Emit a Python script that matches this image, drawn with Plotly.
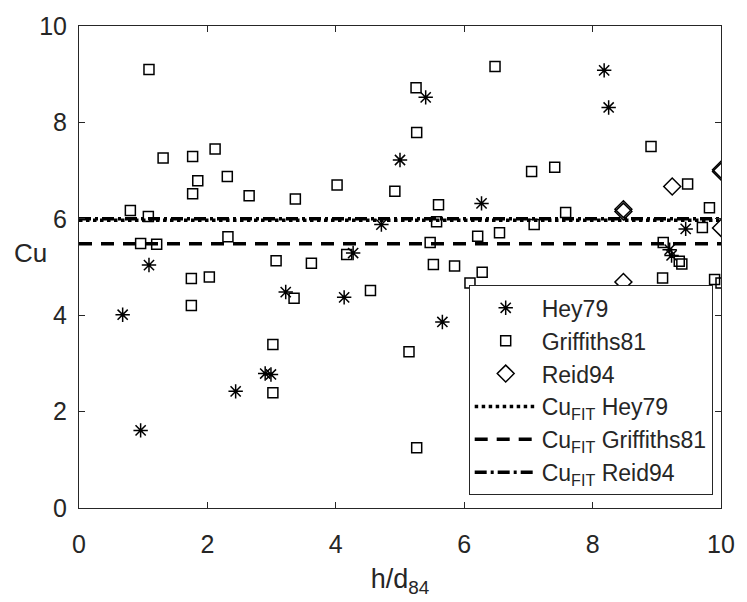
import plotly.graph_objects as go

# Hey (1979) measurements
hey_x = [0.68, 0.96, 1.09, 2.44, 2.90, 2.99, 3.22, 4.13, 4.27, 4.71, 5.00, 5.40,
         5.66, 6.27, 8.18, 8.25, 9.20, 9.23, 9.45]
hey_y = [4.01, 1.61, 5.04, 2.42, 2.79, 2.77, 4.48, 4.37, 5.29, 5.88, 7.22, 8.52,
         3.86, 6.32, 9.08, 8.31, 5.36, 5.24, 5.79]

# Griffiths (1981) measurements
gri_x = [1.09, 1.31, 1.77, 2.12, 1.85, 2.31, 1.77, 2.65, 3.37, 0.80, 1.08, 2.32,
         0.96, 1.21, 3.07, 1.75, 2.03, 1.75, 3.35, 3.02, 3.02, 3.62, 4.17, 4.54,
         5.47, 5.52, 5.85, 6.21, 6.28, 6.09, 5.14, 5.26, 4.02, 4.92, 5.25, 5.26,
         5.60, 5.57, 6.48, 7.05, 7.41, 8.91, 9.48, 9.82, 7.58, 7.09, 6.55, 9.71,
         9.10, 9.35, 9.39, 9.09, 9.90, 10.0]
gri_y = [9.10, 7.26, 7.29, 7.45, 6.79, 6.88, 6.52, 6.48, 6.41, 6.17, 6.05, 5.63,
         5.49, 5.47, 5.13, 4.76, 4.79, 4.20, 4.35, 3.39, 2.39, 5.08, 5.26, 4.51,
         5.51, 5.05, 5.02, 5.64, 4.89, 4.67, 3.24, 1.25, 6.70, 6.57, 8.72, 7.79,
         6.29, 5.94, 9.16, 6.98, 7.07, 7.50, 6.72, 6.23, 6.13, 5.88, 5.71, 5.82,
         5.51, 5.12, 5.06, 4.77, 4.74, 4.67]

# Reid (1994) measurements
reid_x = [8.48, 8.48, 9.24, 10.0, 10.0, 10.0, 8.48]
reid_y = [6.20, 6.15, 6.67, 7.02, 6.98, 5.81, 4.69]

# Fitted Cu constants for each data set
fit_names = ["Hey79", "Griffiths81", "Reid94"]
fit_values = [5.97, 5.48, 6.00]
fit_dashes = ["dot", "13px,9px", "12px,4px,3px,4px"]
x_range = [0, 10]

FONT = "Liberation Sans, Arial, sans-serif"
INK = "#262626"

fig = go.Figure()

fig.add_trace(go.Scatter(
    x=hey_x, y=hey_y, mode="markers", name="Hey79",
    marker=dict(symbol="asterisk-open", size=12, color="black",
                line=dict(color="black", width=1.5))))
fig.add_trace(go.Scatter(
    x=gri_x, y=gri_y, mode="markers", name="Griffiths81",
    marker=dict(symbol="square-open", size=10, color="black",
                line=dict(color="black", width=1.5))))
fig.add_trace(go.Scatter(
    x=reid_x, y=reid_y, mode="markers", name="Reid94",
    marker=dict(symbol="diamond-open", size=13, color="black",
                line=dict(color="black", width=1.5))))

for name, val, dash in zip(fit_names, fit_values, fit_dashes):
    fig.add_trace(go.Scatter(
        x=x_range, y=[val, val], mode="lines",
        name="Cu<sub>FIT</sub> " + name,
        line=dict(color="black", width=3.5, dash=dash)))

axis_common = dict(
    showline=True, linecolor=INK, linewidth=1, mirror="ticks",
    ticks="inside", ticklen=6, tickcolor=INK, tickwidth=1,
    showgrid=False, zeroline=False,
    tickfont=dict(family=FONT, size=25, color=INK),
)

fig.update_xaxes(range=[0, 10], tickvals=[0, 2, 4, 6, 8, 10],
                 ticklabelstandoff=14,
                 title=dict(text="h/d<sub>84</sub>",
                            font=dict(family=FONT, size=27, color=INK),
                            standoff=12),
                 **axis_common)
fig.update_yaxes(range=[0, 10], tickvals=[0, 2, 4, 6, 8, 10],
                 ticklabelstandoff=6, **axis_common)

fig.add_annotation(text="Cu", xref="paper", yref="paper", x=-0.075, y=0.53,
                   xanchor="center", yanchor="middle", showarrow=False,
                   font=dict(family=FONT, size=26, color=INK))

fig.update_layout(
    width=747, height=602,
    margin=dict(l=79, r=18, t=25, b=94),
    plot_bgcolor="white", paper_bgcolor="white",
    showlegend=True,
    legend=dict(x=0.607, y=0.462, xanchor="left", yanchor="top",
                bgcolor="white", bordercolor=INK, borderwidth=1,
                font=dict(family=FONT, size=23, color=INK),
                tracegroupgap=0, itemwidth=62),
)

fig.write_html("out.html")
